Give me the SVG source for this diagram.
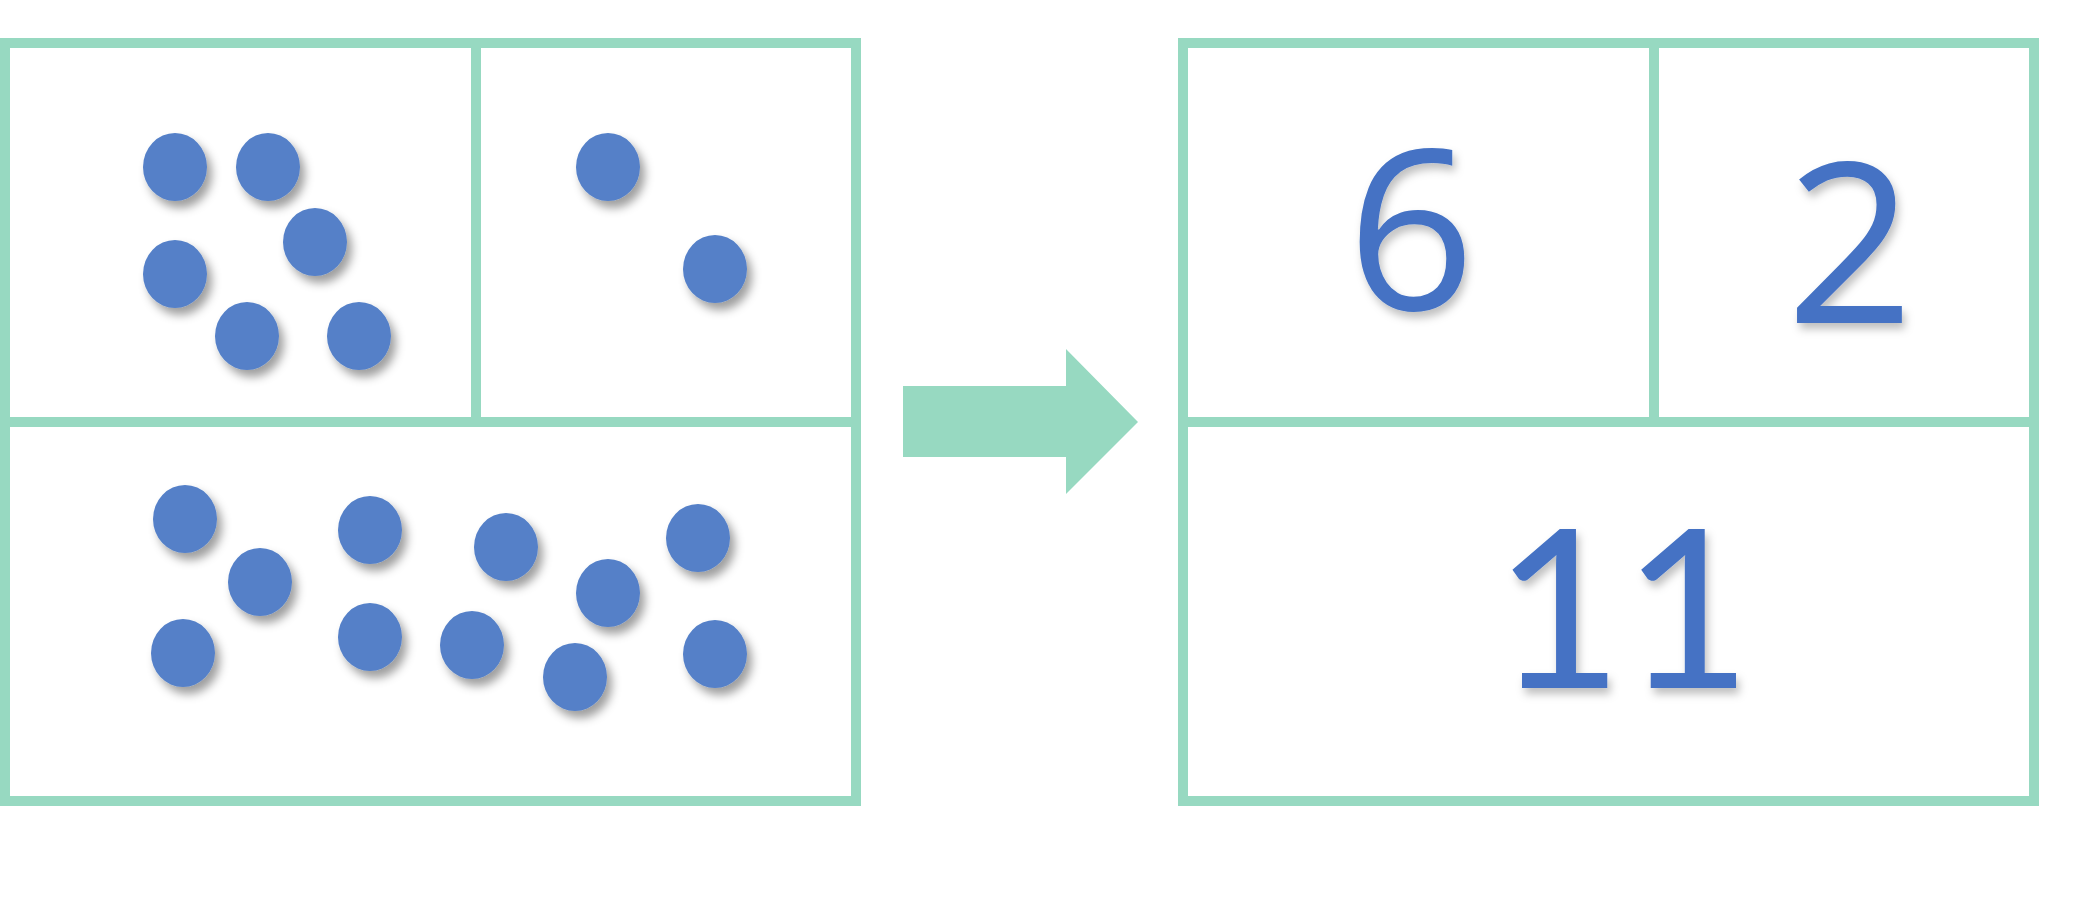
<svg xmlns="http://www.w3.org/2000/svg" width="2073" height="921" viewBox="0 0 2073 921">
  <defs>
    <filter id="sh" x="-40%" y="-40%" width="190%" height="190%">
      <feDropShadow dx="5" dy="7" stdDeviation="5" flood-color="#000" flood-opacity="0.38"/>
    </filter>
    <filter id="tsh" x="-20%" y="-20%" width="140%" height="140%">
      <feDropShadow dx="3" dy="6" stdDeviation="4" flood-color="#000" flood-opacity="0.25"/>
    </filter>
  </defs>
  <style>
    .frame { fill: none; stroke: #97D9C1; stroke-width: 10; }
    .div { stroke: #97D9C1; stroke-width: 10; }
    .dot { fill: #5480C8; filter: url(#sh); }
    .num { fill: #4472C4; font-family: "Open Sans", Lato, sans-serif; font-size: 224px; text-anchor: middle; filter: url(#tsh); }
    .num1 { font-family: Lato, "Open Sans", sans-serif; font-size: 222px; }
  </style>
  <rect width="2073" height="921" fill="#ffffff"/>

  <g id="left-panel">
    <rect class="frame" x="5" y="43" width="851" height="758"/>
    <line class="div" x1="476" y1="43" x2="476" y2="422"/>
    <line class="div" x1="5" y1="422" x2="856" y2="422"/>
  </g>

  <g id="cell-left-top-a">
    <ellipse class="dot" cx="175" cy="167" rx="32" ry="34"/>
    <ellipse class="dot" cx="268" cy="167" rx="32" ry="34"/>
    <ellipse class="dot" cx="315" cy="242" rx="32" ry="34"/>
    <ellipse class="dot" cx="175" cy="274" rx="32" ry="34"/>
    <ellipse class="dot" cx="247" cy="336" rx="32" ry="34"/>
    <ellipse class="dot" cx="359" cy="336" rx="32" ry="34"/>
  </g>

  <g id="cell-left-top-b">
    <ellipse class="dot" cx="608" cy="167" rx="32" ry="34"/>
    <ellipse class="dot" cx="715" cy="269" rx="32" ry="34"/>
  </g>

  <g id="cell-left-bottom">
    <ellipse class="dot" cx="185" cy="519" rx="32" ry="34"/>
    <ellipse class="dot" cx="260" cy="582" rx="32" ry="34"/>
    <ellipse class="dot" cx="183" cy="653" rx="32" ry="34"/>
    <ellipse class="dot" cx="370" cy="530" rx="32" ry="34"/>
    <ellipse class="dot" cx="370" cy="637" rx="32" ry="34"/>
    <ellipse class="dot" cx="506" cy="547" rx="32" ry="34"/>
    <ellipse class="dot" cx="472" cy="645" rx="32" ry="34"/>
    <ellipse class="dot" cx="608" cy="593" rx="32" ry="34"/>
    <ellipse class="dot" cx="575" cy="677" rx="32" ry="34"/>
    <ellipse class="dot" cx="698" cy="538" rx="32" ry="34"/>
    <ellipse class="dot" cx="715" cy="654" rx="32" ry="34"/>
  </g>

  <g id="connectors">
    <polygon points="903,386 1066,386 1066,349 1138,422 1066,494 1066,457 903,457" fill="#97D9C1"/>
  </g>

  <g id="right-panel">
    <rect class="frame" x="1183" y="43" width="851" height="758"/>
    <line class="div" x1="1654" y1="43" x2="1654" y2="422"/>
    <line class="div" x1="1183" y1="422" x2="2034" y2="422"/>
  </g>

  <g id="count-6">
    <text class="num" x="1411" y="310">6</text>
  </g>
  <g id="count-2">
    <text class="num" x="1850" y="323">2</text>
  </g>
  <g id="count-11">
    <text class="num num1" x="1623" y="688">11</text>
  </g>
</svg>
